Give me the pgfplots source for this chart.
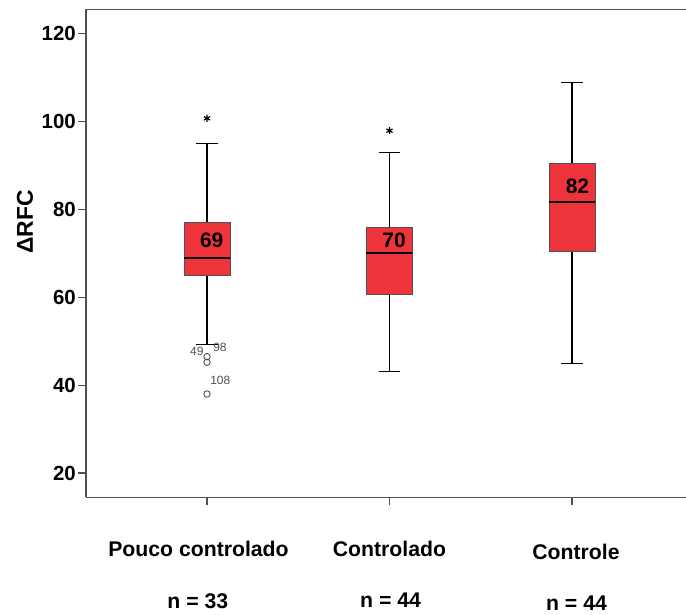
\documentclass[border=0pt]{standalone}
\usepackage{fontspec}
\setmainfont{Liberation Sans}
\usepackage{pgfplots}
\pgfplotsset{compat=1.18}
\definecolor{boxred}{RGB}{238,52,58}
\definecolor{axgray}{RGB}{80,80,80}
\begin{document}
\begin{tikzpicture}
\useasboundingbox (0bp,0bp) rectangle (686bp,-615bp);
\begin{axis}[
  at={(86bp,-497.3bp)}, anchor=south west,
  scale only axis, width=600bp, height=488bp,
  xmin=0.337, xmax=3.625, ymin=14.5, ymax=125.5,
  axis x line*=bottom, axis y line*=left,
  axis line style={axgray, line width=1.3bp},
  tick align=outside, major tick length=8bp,
  tick style={axgray, line width=1.3bp},
  xtick={1,2,3},
  xticklabels={Pouco controlado\hspace*{17bp}, Controlado\hspace*{0bp}, \hspace*{8bp}\raisebox{-3bp}{Controle}},
  ytick={20,40,60,80,100,120},
  /pgf/number format/assume math mode=true,
  yticklabel style={font=\fontsize{20.5}{24}\selectfont\bfseries, text=black, inner sep=2bp},
  xticklabel style={font=\fontsize{21.3}{25}\selectfont\bfseries, text=black, anchor=base, yshift=-51bp},
  ylabel={ΔRFC},
  ylabel style={font=\fontsize{23}{27}\selectfont\bfseries, at={(axis description cs:-0.1017,0.564)}, anchor=center},
  clip=false,
]
% --- Pouco controlado: Q1=65, median=69, Q3=77, whiskers 49.2 / 95
\addplot[black, line width=1.3bp] coordinates {(1,49.2) (1,65)};
\addplot[black, line width=1.3bp] coordinates {(1,77) (1,95)};
\addplot[black, line width=1.3bp] coordinates {(0.94,49.2) (1.06,49.2)};
\addplot[black, line width=1.3bp] coordinates {(0.94,95) (1.06,95)};
\addplot[draw=axgray, fill=boxred, line width=0.8bp] coordinates {(0.874,65) (1.126,65) (1.126,77) (0.874,77) (0.874,65)} --cycle;
\addplot[black, line width=2bp] coordinates {(0.874,69) (1.126,69)};
% --- Controlado: Q1=60.6, median=70, Q3=76, whiskers 43.1 / 93
\addplot[black, line width=1.3bp] coordinates {(2,43.1) (2,60.6)};
\addplot[black, line width=1.3bp] coordinates {(2,76) (2,93)};
\addplot[black, line width=1.3bp] coordinates {(1.94,43.1) (2.06,43.1)};
\addplot[black, line width=1.3bp] coordinates {(1.94,93) (2.06,93)};
\addplot[draw=axgray, fill=boxred, line width=0.8bp] coordinates {(1.874,60.6) (2.126,60.6) (2.126,76) (1.874,76) (1.874,60.6)} --cycle;
\addplot[black, line width=2bp] coordinates {(1.874,70) (2.126,70)};
% --- Controle: Q1=70.5, median=81.6, Q3=90.4, whiskers 45 / 108.9
\addplot[black, line width=1.3bp] coordinates {(3,45) (3,70.5)};
\addplot[black, line width=1.3bp] coordinates {(3,90.4) (3,108.9)};
\addplot[black, line width=1.3bp] coordinates {(2.94,45) (3.06,45)};
\addplot[black, line width=1.3bp] coordinates {(2.94,108.9) (3.06,108.9)};
\addplot[draw=axgray, fill=boxred, line width=0.8bp] coordinates {(2.874,70.5) (3.126,70.5) (3.126,90.4) (2.874,90.4) (2.874,70.5)} --cycle;
\addplot[black, line width=2bp] coordinates {(2.874,81.6) (3.126,81.6)};
% outliers
\addplot[only marks, mark=o, mark size=3.2bp, draw=axgray, line width=0.9bp] coordinates {(1,46.5) (1,45.2) (1,38)};
% extremes
\addplot[only marks, mark=asterisk, mark size=3.6bp, draw=black, line width=1.2bp] coordinates {(1,100.7) (2,97.9)};
% labels
\node[font=\fontsize{12}{14}\selectfont, text=axgray] at (axis cs:0.944,47.6) {49};
\node[font=\fontsize{12}{14}\selectfont, text=axgray] at (axis cs:1.071,48.6) {98};
\node[font=\fontsize{12}{14}\selectfont, text=axgray] at (axis cs:1.073,41.0) {108};
\node[font=\fontsize{21}{24}\selectfont\bfseries] at (axis cs:1.026,73) {69};
\node[font=\fontsize{21}{24}\selectfont\bfseries] at (axis cs:2.025,73) {70};
\node[font=\fontsize{21}{24}\selectfont\bfseries] at (axis cs:3.03,85.3) {82};
\node[font=\fontsize{21.3}{25}\selectfont\bfseries] at (axis cs:0.95,-9.1) {n = 33};
\node[font=\fontsize{21.3}{25}\selectfont\bfseries] at (axis cs:2.006,-8.9) {n = 44};
\node[font=\fontsize{21.3}{25}\selectfont\bfseries] at (axis cs:3.025,-9.6) {n = 44};
\draw[axgray, line width=1.3bp] (rel axis cs:0,1) -- (rel axis cs:1,1);
\end{axis}
\end{tikzpicture}
\end{document}
